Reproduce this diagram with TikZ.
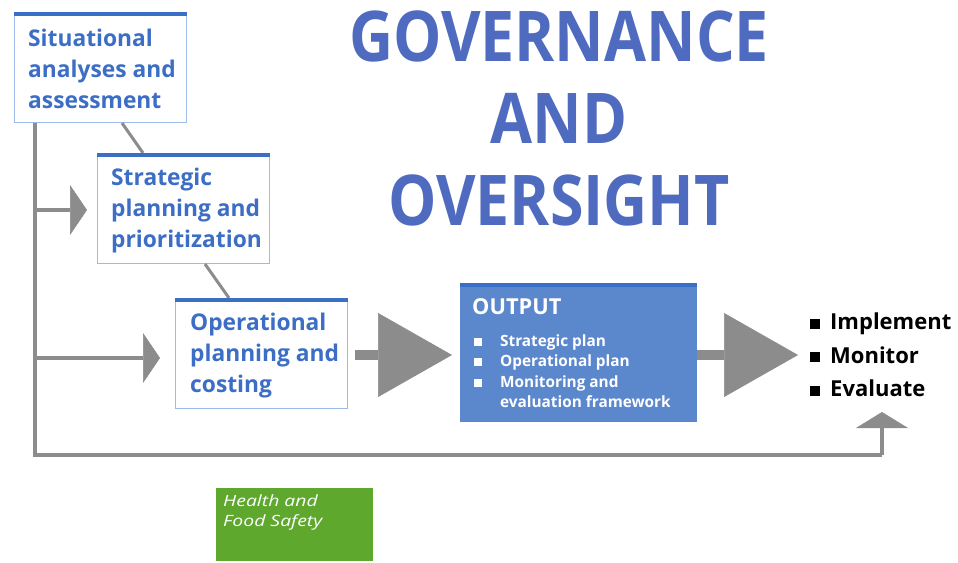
\documentclass[tikz,border=0pt]{standalone}
\usepackage{fontspec}
\setmainfont{Open Sans}
\newfontfamily\titlefont{Open Sans}[FakeStretch=0.87]
\newfontfamily\boxfont{Open Sans}[FakeStretch=0.99]
\newfontfamily\hfsfont{Open Sans}[FakeStretch=1.25]
\usetikzlibrary{arrows.meta}
\definecolor{gline}{HTML}{8C8C8C}
\definecolor{btext}{HTML}{3B6EC4}
\definecolor{bbar}{HTML}{3A6FC6}
\definecolor{bborder}{HTML}{9DBBE6}
\definecolor{outfill}{HTML}{5B87CD}
\definecolor{titleblue}{HTML}{4E6BC0}
\definecolor{hfsgreen}{HTML}{5FA82E}
\newcommand{\osq}{\makebox[26pt][l]{\raisebox{0.5pt}{\rule{8pt}{8pt}}}}
\newcommand{\lsq}{\makebox[20pt][l]{\raisebox{1pt}{\rule{10pt}{10pt}}}}
\begin{document}
\begin{tikzpicture}[x=1pt,y=-1pt,
  stagebox/.style={draw=bborder, line width=1pt, fill=white, minimum width=172pt, minimum height=110pt, anchor=north west, inner sep=0pt},
  stagetext/.style={anchor=west, align=left, inner sep=0pt, text=btext, font=\boxfont\bfseries\fontsize{23}{31}\selectfont},
  topbar/.style={draw=bbar, line width=4pt},
  conn/.style={draw=gline, line width=3pt},
  gl/.style={draw=gline, line width=4pt},
  smallarrow/.style={gl, -{Triangle[width=50pt,length=17pt,line width=0.5pt]}},
  bigarrow/.style={draw=gline, line width=10pt, -{Triangle[width=84pt,length=74pt,line width=0.5pt]}},
  uparrow/.style={gl, -{Triangle[width=52pt,length=16pt,line width=0.5pt]}}
]
\useasboundingbox (0,0) rectangle (958,562);

% title
\node[align=center, text=titleblue, inner sep=0pt, font=\titlefont\bfseries\fontsize{70}{82}\selectfont] (title) at (559,118) {GOVERNANCE\\AND\\OVERSIGHT};

% feedback lines
\coordinate (v0) at (35,122);
\coordinate (v1) at (35,210);
\coordinate (v2) at (35,358);
\coordinate (v3) at (35,455);
\coordinate (c1) at (882,455);
\coordinate (a1) at (87,210);
\coordinate (a2) at (160,358);
\coordinate (a3) at (882,412);
\draw[gl, line join=miter] (v0) -- (v3) -- (c1);
\draw[uparrow] (c1) -- (a3);
\draw[smallarrow] (v1) -- (a1);
\draw[smallarrow] (v2) -- (a2);

% stage boxes
\node[stagebox] (b1) at (14,12) {};
\node[stagebox] (b2) at (97,153) {};
\node[stagebox] (b3) at (175,298) {};
\draw[conn] ([xshift=108pt]b1.south west) -- ([xshift=46pt]b2.north west);
\draw[conn] ([xshift=108pt]b2.south west) -- ([xshift=54pt]b3.north west);
\foreach \b in {b1,b2,b3}{
  \draw[topbar] ([yshift=-2pt]\b.north west) -- ([yshift=-2pt]\b.north east);
}
\node[stagetext] (t1) at (28,69) {Situational\\analyses and\\assessment};
\node[stagetext] (t2) at (111,211) {Strategic\\planning and\\prioritization};
\node[stagetext] (t3) at (190,356) {Operational\\planning and\\costing};

% output box
\node[fill=outfill, minimum width=237pt, minimum height=139pt, anchor=north west, inner sep=0pt] (out) at (460,283) {};
\draw[topbar] ([yshift=-2pt]out.north west) -- ([yshift=-2pt]out.north east);
\node[anchor=west, inner sep=0pt, text=white, font=\boxfont\bfseries\fontsize{22}{26}\selectfont] (otitle) at (472,307) {OUTPUT};
\node[anchor=west, align=left, inner sep=0pt, text=white, font=\boxfont\bfseries\fontsize{15.5}{20.5}\selectfont] (olist) at (474,371) {\osq Strategic plan\\\osq Operational plan\\\osq Monitoring and\\\hspace*{26pt}evaluation framework};

% big arrows
\coordinate (m1) at (355,355);
\coordinate (m1e) at (452,355);
\coordinate (m2) at (697,355);
\draw[bigarrow] (m1) -- (m1e);
\node[anchor=west, align=left, inner sep=0pt, text=black, font=\bfseries\fontsize{22}{33.5}\selectfont] (res) at (810,355) {\lsq Implement\\\lsq Monitor\\\lsq Evaluate};
\draw[bigarrow] (m2) -- ([xshift=-12pt]res.west);

% green box
\node[fill=hfsgreen, minimum width=157pt, minimum height=73pt, anchor=north west, inner sep=0pt] (hfs) at (216,488) {};
\node[anchor=west, align=left, inner sep=0pt, text=white, font=\hfsfont\itshape\fontsize{15.5}{20}\selectfont] (hfst) at (223,512) {Health and\\Food Safety};
\end{tikzpicture}
\end{document}
